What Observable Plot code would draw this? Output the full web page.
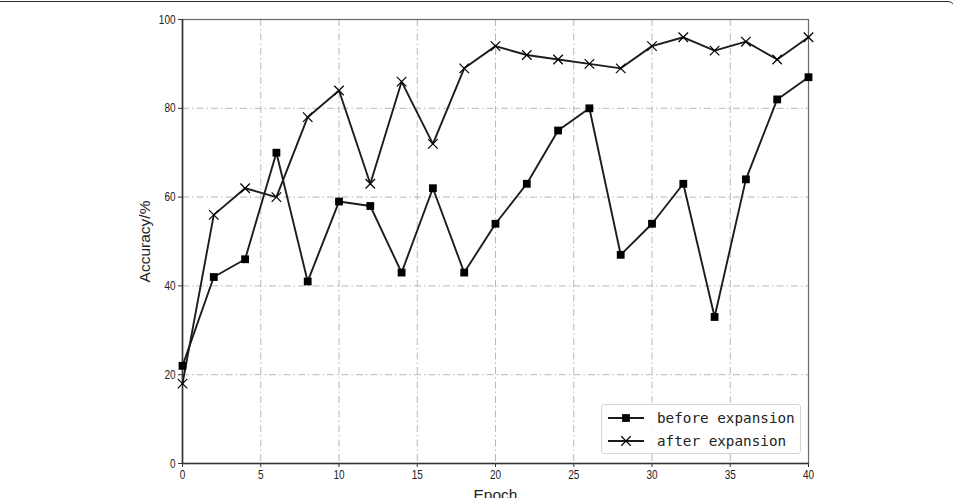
<!DOCTYPE html>
<html>
<head>
<meta charset="utf-8">
<script src="https://cdn.jsdelivr.net/npm/d3@7"></script>
<script src="https://cdn.jsdelivr.net/npm/@observablehq/plot@0.6"></script>
<style>
  html, body { margin: 0; padding: 0; background: #fff; }
  #wrap { position: relative; width: 953px; height: 498px; overflow: hidden; background: #fff; }
  #border { position: absolute; top: 0.5px; left: -12px; width: 967px; height: 700px;
            border: 1.6px solid #2a2a2a; border-radius: 7px; box-sizing: border-box; pointer-events: none; }
  #chart { position: absolute; left: 0; top: 0; }
  #legend { position: absolute; left: 601px; top: 404px; width: 200px; height: 50px; box-sizing: border-box;
            border: 1px solid #d6d6d6; border-radius: 3px; background: rgba(255,255,255,0.9);
            font-family: "DejaVu Sans Mono", "Liberation Mono", monospace; font-size: 14.3px; color: #222; }
  .entry { position: absolute; left: 5px; height: 20px; display: flex; align-items: center; }
  .entry svg { display: block; }
  .entry span { margin-left: 12px; white-space: pre; }
</style>
</head>
<body>
<div id="wrap">
  <div id="chart"></div>
  <div id="legend"></div>
  <div id="border"></div>
</div>
<script>
const epochs = [0, 2, 4, 6, 8, 10, 12, 14, 16, 18, 20, 22, 24, 26, 28, 30, 32, 34, 36, 38, 40];
const beforeExpansion = [22, 42, 46, 70, 41, 59, 58, 43, 62, 43, 54, 63, 75, 80, 47, 54, 63, 33, 64, 82, 87];
const afterExpansion  = [18, 56, 62, 60, 78, 84, 63, 86, 72, 89, 94, 92, 91, 90, 89, 94, 96, 93, 95, 91, 96];
const seriesNames = ["before expansion", "after expansion"];
const seriesSymbols = ["square", "times"];
const xTicks = [0, 5, 10, 15, 20, 25, 30, 35, 40];
const yTicks = [0, 20, 40, 60, 80, 100];
const xLabel = "Epoch";
const yLabel = "Accuracy/%";

const rows = [];
[beforeExpansion, afterExpansion].forEach((vals, i) => {
  vals.forEach((v, j) => rows.push({ epoch: epochs[j], value: v, series: seriesNames[i], symbol: seriesSymbols[i] }));
});
const beforeRows = rows.filter(d => d.series === seriesNames[0]);
const afterRows = rows.filter(d => d.series === seriesNames[1]);

const gridStyle = { stroke: "#b8b8b8", strokeOpacity: 1, strokeWidth: 1, strokeDasharray: "7,3,1.5,3" };
const ink = "#1c1c1c";

const chart = Plot.plot({
  width: 953,
  height: 498,
  marginLeft: 182,
  marginRight: 145,
  marginTop: 19,
  marginBottom: 35,
  style: { fontFamily: "'Liberation Sans', Arial, sans-serif", fontSize: "12.5px", color: "#222", background: "transparent", overflow: "visible" },
  x: { domain: [0, 40], label: null },
  y: { domain: [0, 100], label: null },
  marks: [
    Plot.gridX(xTicks, gridStyle),
    Plot.gridY(yTicks, gridStyle),
    Plot.frame({ stroke: "#6a6a6a", strokeWidth: 1.2 }),
    Plot.ruleX([0], { stroke: "#333", strokeWidth: 1.6 }),
    Plot.ruleY([0], { stroke: "#333", strokeWidth: 1.6 }),
    Plot.axisX(xTicks, { tickSize: 4, tickPadding: 3, label: null, stroke: "#333", ariaLabel: "x-axis" }),
    Plot.axisY(yTicks, { tickSize: 4, tickPadding: 3, label: null, stroke: "#333", ariaLabel: "y-axis" }),
    Plot.line(rows, { x: "epoch", y: "value", z: "series", stroke: ink, strokeWidth: 1.9 }),
    Plot.dot(beforeRows, { x: "epoch", y: "value", symbol: "square", fill: "#000", stroke: "none", r: 4.4 }),
    Plot.dot(afterRows, { x: "epoch", y: "value", symbol: "times", stroke: "#000", strokeWidth: 1.2, r: 4.4 }),
    Plot.text([xLabel], { frameAnchor: "bottom", dy: 25, lineAnchor: "top", fontSize: 15.5, fill: "#222",
      fontFamily: "'Liberation Sans', Arial, sans-serif" }),
    Plot.text([yLabel], { frameAnchor: "left", dx: -37, rotate: -90, textAnchor: "middle", fontSize: 15.5, fill: "#222",
      fontFamily: "'Liberation Sans', Arial, sans-serif" })
  ]
});
document.getElementById("chart").appendChild(chart);

// condense tick labels horizontally (reference uses a narrow face)
d3.select(chart).selectAll('g[aria-label="x-axis tick label"] text, g[aria-label="y-axis tick label"] text')
  .each(function () {
    const t = this.getAttribute("transform") || "";
    this.setAttribute("transform", t + " scale(0.8,1)");
  });

// legend
const legend = document.getElementById("legend");
seriesNames.forEach((name, i) => {
  const e = document.createElement("div");
  e.className = "entry";
  e.style.top = (i === 0 ? 3 : 25.5) + "px";
  const s = d3.create("svg").attr("width", 38).attr("height", 20);
  s.append("line").attr("x1", 1).attr("x2", 37).attr("y1", 10).attr("y2", 10).attr("stroke", ink).attr("stroke-width", 1.9);
  const sym = seriesSymbols[i] === "square" ? d3.symbolSquare : d3.symbolTimes;
  const size = Math.PI * 4.4 * 4.4;
  s.append("path").attr("transform", "translate(19,10)").attr("d", d3.symbol(sym, size)())
    .attr("fill", seriesSymbols[i] === "square" ? "#000" : "none")
    .attr("stroke", seriesSymbols[i] === "square" ? "none" : "#000").attr("stroke-width", 1.2);
  e.appendChild(s.node());
  const t = document.createElement("span");
  t.textContent = name;
  e.appendChild(t);
  legend.appendChild(e);
});
</script>
</body>
</html>
